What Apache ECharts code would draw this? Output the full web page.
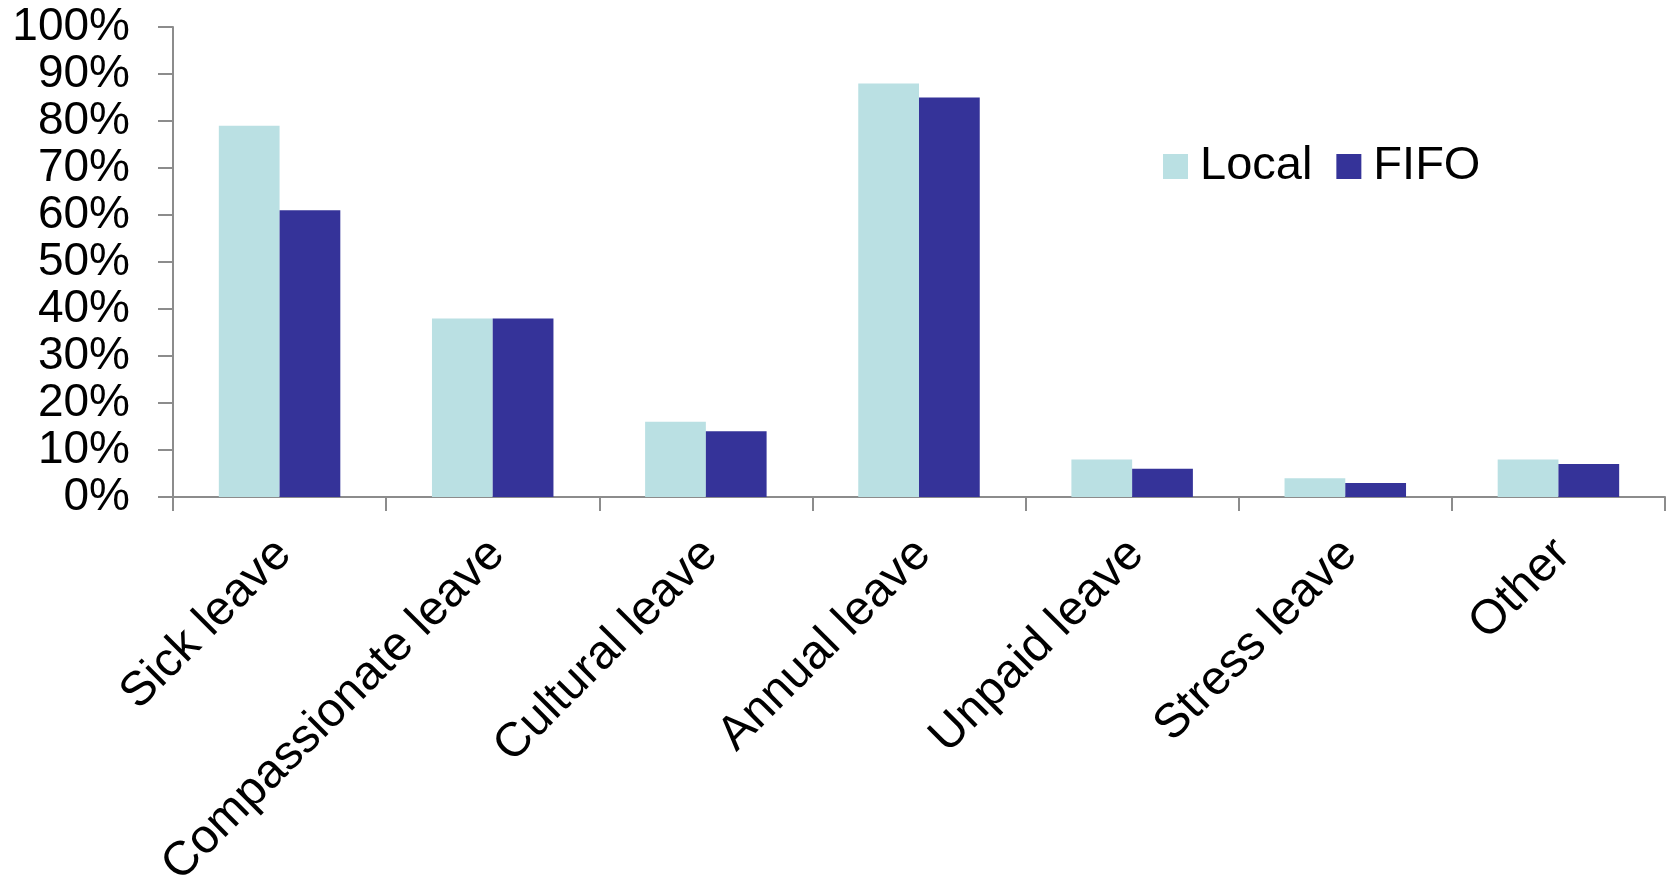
<!DOCTYPE html>
<html>
<head>
<meta charset="utf-8">
<script src="https://cdn.jsdelivr.net/npm/echarts@6/dist/echarts.min.js"></script>
<style>
html,body{margin:0;padding:0;background:#fff;}
#c{width:1668px;height:879px;}
</style>
</head>
<body>
<div id="c"></div>
<script>
const categories = ['Sick leave','Compassionate leave','Cultural leave','Annual leave','Unpaid leave','Stress leave','Other'];
const localValues = [79, 38, 16, 88, 8, 4, 8];
const fifoValues = [61, 38, 14, 85, 6, 3, 7];
const seriesNames = ['Local', 'FIFO'];

const chart = echarts.init(document.getElementById('c'), null, {renderer:'canvas'});
const font = 'Liberation Sans, Arial, sans-serif';
chart.setOption({
  animation: false,
  backgroundColor: '#fff',
  grid: {left: 173, right: 3, top: 27, bottom: 382, containLabel: false, outerBoundsMode: 'none'},
  legend: {
    data: seriesNames,
    left: 1158, top: 138,
    itemWidth: 25, itemHeight: 25, itemGap: 24,
    icon: 'rect',
    textStyle: {fontFamily: font, fontSize: 47, color: '#000', lineHeight: 47, padding: [0,0,0,7]}
  },
  xAxis: {
    type: 'category',
    data: categories,
    axisLine: {lineStyle: {color: '#8c8c8c', width: 2}},
    axisTick: {show: true, length: 14, lineStyle: {color: '#8c8c8c', width: 2}},
    axisLabel: {rotate: 45, margin: 54, padding: [0, -6, 0, 0], fontFamily: font, fontSize: 48, color: '#000', interval: 0}
  },
  yAxis: {
    type: 'value',
    min: 0, max: 100, interval: 10,
    splitLine: {show: false},
    axisLine: {show: true, lineStyle: {color: '#8c8c8c', width: 2}},
    axisTick: {show: true, length: 15, lineStyle: {color: '#8c8c8c', width: 2}},
    axisLabel: {formatter: '{value}%', margin: 43, fontFamily: font, fontSize: 46, color: '#000'}
  },
  series: [
    {name: seriesNames[0], type: 'bar', data: localValues, barGap: '0%', barCategoryGap: '43%', itemStyle: {color: '#BAE0E3'}},
    {name: seriesNames[1], type: 'bar', data: fifoValues, barGap: '0%', barCategoryGap: '43%', itemStyle: {color: '#353399'}}
  ]
});
</script>
</body>
</html>
